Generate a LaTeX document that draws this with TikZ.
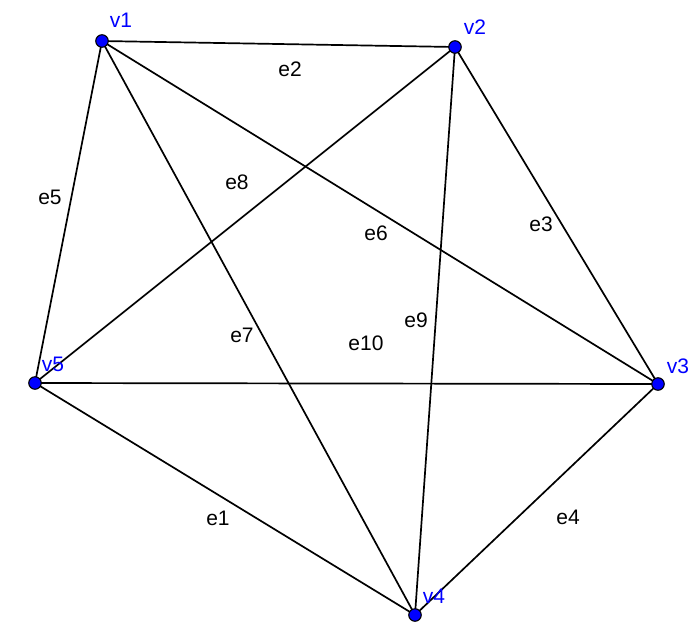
\documentclass[tikz,border=0pt]{standalone}
\usepackage{fontspec}
\setmainfont{Liberation Sans}
\begin{document}
\begin{tikzpicture}[x=1pt,y=-1pt,
  vtx/.style={circle,draw=black,fill=blue,line width=1.1pt,inner sep=0pt,minimum size=12.5pt},
  vlab/.style={text=blue,font=\fontsize{21}{24}\selectfont,inner sep=0pt},
  elab/.style={font=\fontsize{21}{24}\selectfont,inner sep=0pt},
  edge/.style={line width=1.7pt,black}]
\useasboundingbox (0,0) rectangle (691,625);
\coordinate (v1) at (102,41);
\coordinate (v2) at (455,47);
\coordinate (v3) at (658,384);
\coordinate (v4) at (415,615);
\coordinate (v5) at (35,383);
\draw[edge] (v5) -- (v4);
\draw[edge] (v1) -- (v2);
\draw[edge] (v2) -- (v3);
\draw[edge] (v3) -- (v4);
\draw[edge] (v1) -- (v5);
\draw[edge] (v1) -- (v3);
\draw[edge] (v1) -- (v4);
\draw[edge] (v2) -- (v5);
\draw[edge] (v2) -- (v4);
\draw[edge] (v5) -- (v3);
\node[vtx] (n1) at (v1) {};
\node[vtx] (n2) at (v2) {};
\node[vtx] (n3) at (v3) {};
\node[vtx] (n4) at (v4) {};
\node[vtx] (n5) at (v5) {};
\node[vlab] (l1) at (121,20) {v1};
\node[vlab] (l2) at (475,27) {v2};
\node[vlab] (l3) at (678,366) {v3};
\node[vlab] (l4) at (434,596) {v4};
\node[vlab] (l5) at (53,364) {v5};
\node[elab] (e1) at (218,518) {e1};
\node[elab] (e2) at (290,69) {e2};
\node[elab] (e3) at (541,224) {e3};
\node[elab] (e4) at (568,517) {e4};
\node[elab] (e5) at (50,197) {e5};
\node[elab] (e6) at (376,233) {e6};
\node[elab] (e7) at (242,335) {e7};
\node[elab] (e8) at (237,182) {e8};
\node[elab] (e9) at (416,320) {e9};
\node[elab] (e10) at (366,343) {e10};
\end{tikzpicture}
\end{document}
